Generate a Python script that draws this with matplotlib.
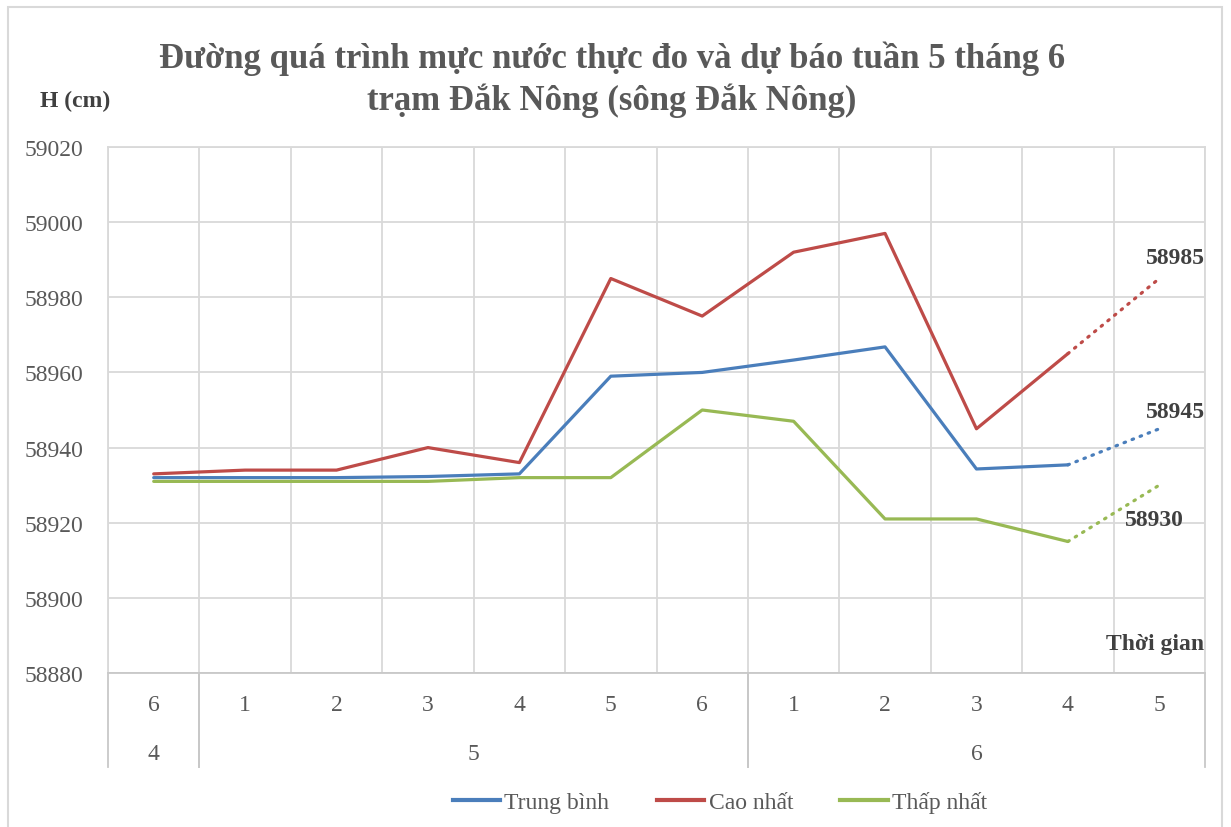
import matplotlib.pyplot as plt
from matplotlib.patches import Rectangle
from matplotlib.lines import Line2D
import matplotlib.transforms as mtransforms
import numpy as np

plt.rcParams["font.family"] = ["Liberation Serif", "DejaVu Serif"]

# week labels (first row) and month labels (second row)
weekLabels = ["6", "1", "2", "3", "4", "5", "6", "1", "2", "3", "4", "5"]
monthLabels = ["4", "5", "6"]
monthSpans = [(0, 0), (1, 6), (7, 11)]

# observed values, weeks 0..10
trungBinh = [58932, 58932, 58932, 58932.3, 58933, 58959, 58960, 58963.3, 58966.8, 58934.3, 58935.4]
caoNhat = [58933, 58934, 58934, 58940, 58936, 58985, 58975, 58992, 58997, 58945, 58965]
thapNhat = [58931, 58931, 58931, 58931, 58932, 58932, 58950, 58947, 58921, 58921, 58915]

# forecast for the last week
duBao = {"Trung bình": 58945, "Cao nhất": 58985, "Thấp nhất": 58930}

seriesNames = ["Trung bình", "Cao nhất", "Thấp nhất"]
seriesValues = [trungBinh, caoNhat, thapNhat]
seriesColors = ["#4A7EBB", "#BE4B48", "#98B954"]
labelOffsets = [(16, 17), (16, 21), (-5, -34)]

textGray = "#595959"
gridGray = "#D9D9D9"

fig = plt.figure(figsize=(12.31, 8.28), dpi=100)
ax = fig.add_axes([108 / 1231, 1 - 674 / 828, (1205 - 108) / 1231, (674 - 148) / 828])

xObs = np.arange(len(trungBinh))
xLast = len(weekLabels) - 1
for name, values, color, offset in zip(seriesNames, seriesValues, seriesColors, labelOffsets):
    ax.plot(xObs, values, color=color, lw=2.3, solid_capstyle="round", zorder=3)
    ax.plot([xObs[-1], xLast], [values[-1], duBao[name]], color=color, lw=2.3,
            linestyle=(0, (0.5, 2.2)), dash_capstyle="round", zorder=3)
    ax.annotate(str(duBao[name]), (xLast, duBao[name]), xytext=offset, textcoords="offset pixels",
                ha="center", va="center", fontsize=17, fontweight="bold", color="#404040")

ax.set_xlim(-0.5, len(weekLabels) - 0.5)
ax.set_ylim(58880, 59020)
ax.set_yticks(np.arange(58880, 59021, 20))
ax.set_xticks(np.arange(-0.5, len(weekLabels), 1.0))
ax.set_xticklabels([])
ax.grid(True, color=gridGray, lw=1.3)
ax.tick_params(axis="both", length=0, labelsize=17, labelcolor=textGray, pad=18)
for spine in ax.spines.values():
    spine.set_color(gridGray)
    spine.set_linewidth(1.3)
ax.spines["bottom"].set_color("#C8C8C8")

# multi-level category axis
trans = mtransforms.blended_transform_factory(ax.transData, ax.transAxes)
axH = 674 - 148
for i, label in enumerate(weekLabels):
    ax.text(i, -32 / axH, label, transform=trans, ha="center", va="center", fontsize=17, color=textGray)
for label, (a, b) in zip(monthLabels, monthSpans):
    ax.text((a + b) / 2, -81 / axH, label, transform=trans, ha="center", va="center", fontsize=17, color=textGray)
    for edge in (a - 0.5, b + 0.5):
        ax.plot([edge, edge], [0, -94 / axH], transform=trans, color="#C8C8C8", lw=1.3, clip_on=False)

fig.text(612 / 1231, 1 - 80 / 828, "Đường quá trình mực nước thực đo và dự báo tuần 5 tháng 6\ntrạm Đắk Nông (sông Đắk Nông)",
         ha="center", va="center", fontsize=25, fontweight="bold", color=textGray, linespacing=1.3)
fig.text(40 / 1231, 1 - 101 / 828, "H (cm)", ha="left", va="center", fontsize=17, fontweight="bold", color="#404040")
fig.text(1204 / 1231, 1 - 645 / 828, "Thời gian", ha="right", va="center", fontsize=17, fontweight="bold", color="#404040")

handles = [Line2D([], [], color=c, lw=3) for c in seriesColors]
fig.legend(handles, seriesNames, loc="center", bbox_to_anchor=(720 / 1231, 1 - 803 / 828), ncol=3,
           frameon=False, fontsize=17, handlelength=2.0, handletextpad=0.2, columnspacing=2.0,
           labelcolor=textGray)

fig.patches.append(Rectangle((8 / 1231, -0.01), (1222 - 8) / 1231, 1 - 8 / 828 + 0.01,
                             transform=fig.transFigure, fill=False, edgecolor=gridGray, lw=1.5))

fig.savefig("out.png", dpi=100)
